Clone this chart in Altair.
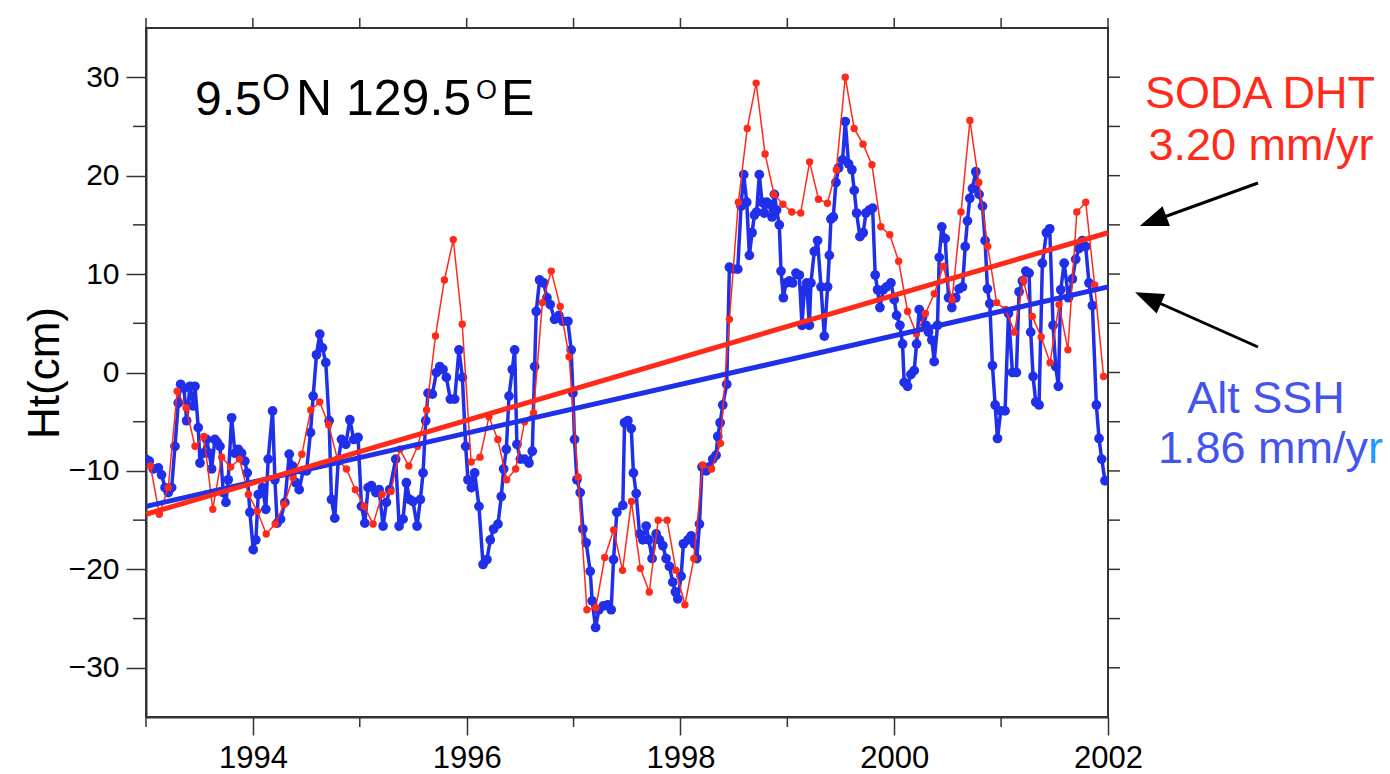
import altair as alt
import pandas as pd

# ---------------- data ----------------
# SODA DHT, monthly values Jan 1993 - Dec 2001 (cm)
red_ht = [-9.5, -14.4, -11.7, -1.9, -3.6, -7.5, -6.5, -13.9, -8.6, -9.6, -8.8, -12.4,
          -14.1, -16.4, -15.4, -13.4, -10.7, -8.3, -3.8, -3.0, -5.3, -8.8, -9.8, -11.9,
          -13.6, -15.4, -12.4, -12.1, -7.8, -9.5, -7.5, -3.8, 3.7, 9.4, 13.5, 4.9,
          -9.1, -8.6, -4.5, -6.8, -10.9, -9.8, -5.0, -4.1, 7.1, 10.3, 6.7, 1.6,
          -10.6, -24.1, -23.9, -18.8, -16.0, -20.1, -13.1, -19.9, -22.3, -15.0, -15.0, -20.1,
          -23.6, -18.9, -9.4, -9.8, -7.2, 5.4, 17.3, 24.8, 29.4, 22.2, 18.1, 17.1,
          16.3, 16.2, 21.4, 17.6, 17.2, 20.6, 30.0, 24.8, 23.2, 21.1, 14.8, 14.0,
          11.3, 6.2, 3.9, 6.0, 8.0, 10.8, 7.4, 16.3, 25.6, 19.3, 12.8, 7.1,
          6.4, 4.1, 9.4, 5.7, 3.6, 1.0, 6.9, 2.3, 16.3, 17.3, 8.9, -0.4]
red_t = [1993 + (i + 0.5) / 12 for i in range(len(red_ht))]

# Altimeter SSH (decimal years, cm)
blue_t = [1993.000, 1993.031, 1993.069, 1993.115, 1993.146, 1993.178, 1993.209, 1993.240, 1993.271, 1993.302,
          1993.324, 1993.355, 1993.380, 1993.411, 1993.442, 1993.458, 1993.489, 1993.505, 1993.536, 1993.567,
          1993.592, 1993.614, 1993.645, 1993.667, 1993.692, 1993.723, 1993.748, 1993.769, 1993.801, 1993.832,
          1993.863, 1993.894, 1993.925, 1993.947, 1993.972, 1994.003, 1994.028, 1994.050, 1994.090, 1994.121,
          1994.143, 1994.184, 1994.206, 1994.227, 1994.259, 1994.299, 1994.340, 1994.371, 1994.402, 1994.433,
          1994.470, 1994.502, 1994.539, 1994.564, 1994.595, 1994.626, 1994.651, 1994.682, 1994.713, 1994.735,
          1994.766, 1994.798, 1994.829, 1994.869, 1994.907, 1994.944, 1994.984, 1995.016, 1995.047, 1995.078,
          1995.109, 1995.150, 1995.181, 1995.218, 1995.249, 1995.280, 1995.336, 1995.368, 1995.405, 1995.436,
          1995.467, 1995.498, 1995.536, 1995.567, 1995.592, 1995.617, 1995.639, 1995.679, 1995.717, 1995.748,
          1995.779, 1995.810, 1995.847, 1995.888, 1995.928, 1995.960, 1995.991, 1996.012, 1996.044, 1996.075,
          1996.115, 1996.153, 1996.190, 1996.221, 1996.252, 1996.293, 1996.324, 1996.346, 1996.371, 1996.396,
          1996.427, 1996.449, 1996.470, 1996.502, 1996.542, 1996.583, 1996.614, 1996.636, 1996.651, 1996.682,
          1996.720, 1996.751, 1996.782, 1996.822, 1996.863, 1996.900, 1996.947, 1996.978, 1996.994, 1997.009,
          1997.031, 1997.062, 1997.087, 1997.118, 1997.156, 1997.174, 1997.206, 1997.237, 1997.280, 1997.321,
          1997.352, 1997.374, 1997.405,
          1997.461, 1997.477, 1997.508, 1997.540, 1997.560, 1997.586, 1997.617, 1997.648, 1997.679, 1997.704,
          1997.735, 1997.773, 1997.804, 1997.835, 1997.866, 1997.897, 1997.928, 1997.953, 1997.975, 1998.006,
          1998.028, 1998.069, 1998.100, 1998.131, 1998.153, 1998.178, 1998.202, 1998.240, 1998.271, 1998.302,
          1998.333, 1998.349, 1998.371, 1998.396, 1998.433, 1998.458, 1998.495, 1998.536, 1998.567, 1998.592,
          1998.620, 1998.645, 1998.670, 1998.692, 1998.713, 1998.738, 1998.763, 1998.785, 1998.807, 1998.832,
          1998.857, 1998.879, 1998.900, 1998.925, 1998.941, 1998.963, 1998.988, 1999.019, 1999.050, 1999.081,
          1999.112, 1999.137, 1999.159, 1999.181, 1999.206, 1999.221, 1999.252, 1999.283, 1999.315, 1999.346,
          1999.377, 1999.393, 1999.408, 1999.430, 1999.455, 1999.480, 1999.517, 1999.542, 1999.573, 1999.604,
          1999.626, 1999.648, 1999.679, 1999.710, 1999.735, 1999.766, 1999.798, 1999.822, 1999.844, 1999.866,
          1999.897, 1999.928, 1999.969, 2000.000, 2000.022, 2000.053, 2000.078, 2000.093, 2000.125, 2000.156,
          2000.187, 2000.209, 2000.234, 2000.265, 2000.296, 2000.321, 2000.352, 2000.374, 2000.405, 2000.421,
          2000.445, 2000.477, 2000.508, 2000.539, 2000.576, 2000.607, 2000.639, 2000.664, 2000.685, 2000.707,
          2000.732, 2000.763, 2000.794, 2000.826, 2000.850, 2000.872, 2000.894, 2000.919, 2000.944, 2000.966,
          2000.997, 2001.037, 2001.069, 2001.106, 2001.143, 2001.168, 2001.199, 2001.231, 2001.262, 2001.277,
          2001.299, 2001.324, 2001.355, 2001.386, 2001.424, 2001.455, 2001.486, 2001.511, 2001.536, 2001.558,
          2001.590, 2001.630, 2001.667, 2001.698, 2001.729, 2001.760, 2001.791, 2001.822, 2001.854, 2001.891,
          2001.916, 2001.941, 2001.972]
blue_ht = [-8.8, -9.0, -9.8, -9.7, -10.4, -11.7, -12.2, -11.7, -7.5, -3.1,
           -1.2, -1.6, -4.9, -1.4, -3.4, -1.4, -5.6, -9.2, -8.2, -6.8,
           -8.2, -9.8, -6.8, -7.1, -7.5, -12.2, -13.2, -10.9, -4.6, -8.2,
           -7.8, -8.2, -9.0, -10.2, -14.2, -18.0, -17.0, -12.4, -11.7, -13.9,
           -8.8, -3.9, -10.9, -15.3, -14.9, -13.2, -8.3, -9.5, -11.2, -11.9,
           -10.0, -10.0, -6.1, -2.4, 1.8, 3.9, 2.5, 1.0, -4.9, -12.9,
           -14.8, -9.0, -6.8, -7.3, -4.8, -6.8, -6.6, -13.6, -15.3, -11.7,
           -11.5, -12.2, -11.9, -15.6, -13.2, -11.9, -8.8, -15.6, -14.9, -11.2,
           -12.9, -13.1, -15.6, -12.9, -10.2, -4.9, -2.1, -2.2, 0.0, 0.6,
           0.3, -0.5, -2.7, -2.7, 2.3, -0.5, -7.5, -10.9, -11.7, -10.2,
           -13.6, -19.5, -19.0, -17.0, -15.9, -15.4, -12.6, -9.8, -7.8, -2.4,
           0.3, 2.3, -7.3, -8.8, -8.8, -9.2, -8.0, 0.6, 6.2, 9.4,
           9.1, 7.6, 6.9, 5.4, 5.8, 5.2, 5.2, 2.3, -2.1, -6.8,
           -10.9, -12.2, -15.9, -17.3, -20.2, -23.2, -25.9, -24.1, -23.7, -23.6,
           -24.1, -19.0, -14.2,
           -13.5, -5.1, -4.9, -5.7, -10.2, -12.3, -16.4, -17.0, -15.6, -17.0,
           -18.9, -16.4, -17.0, -17.6, -18.9, -19.7, -21.3, -22.3, -23.0, -20.7,
           -17.4, -17.0, -16.6, -17.4, -18.9, -15.4, -9.6, -10.0, -9.6, -8.8,
           -8.4, -6.5, -5.1, -3.3, -1.2, 10.7, 10.5, 10.5, 16.9, 20.1,
           17.3, 11.9, 14.2, 16.0, 16.3, 20.1, 17.3, 16.2, 17.3, 17.1,
           15.8, 18.1, 16.5, 15.0, 10.3, 7.6, 9.1, 9.3, 9.1, 10.1,
           9.9, 4.8, 8.4, 9.1, 4.8, 9.1, 12.3, 13.4, 8.7, 3.7,
           8.7, 11.9, 15.6, 15.8, 19.3, 20.8, 21.6, 25.5, 21.2, 20.6,
           18.5, 16.2, 13.8, 14.2, 16.2, 16.5, 16.7, 9.9, 8.4, 6.6,
           8.4, 8.7, 9.1, 7.4, 5.8, 4.8, 2.9, -1.0, -1.4, -0.2,
           0.2, 2.9, 6.4, 5.6, 4.8, 4.1, 3.3, 1.1, 4.8, 11.7,
           14.8, 13.6, 7.6, 6.6, 7.6, 8.5, 8.7, 12.8, 15.4, 17.7,
           18.7, 20.4, 18.1, 16.9, 13.4, 8.5, 7.0, 0.7, -3.3, -6.7,
           -3.9, -3.9, 6.0, 0.0, 0.0, 8.2, 9.3, 10.3, 10.1, 4.1,
           -0.4, -3.0, -3.3, 11.1, 14.2, 14.6, 4.8, 0.6, -1.4, 8.4,
           11.1, 7.6, 9.5, 11.5, 12.6, 13.4, 12.8, 9.1, 6.8, -3.3,
           -6.7, -8.8, -11.0]

# linear trends (end values, cm)
trend_t = [1993.0, 2002.0]
red_trend = [-14.4, 14.2]
blue_trend = [-13.6, 8.7]

x_ticks = [1994, 1996, 1998, 2000, 2002]
x_minor = [1993, 1995, 1997, 1999, 2001]
x_top = [1993, 1994, 1995, 1996, 1997, 1998, 1999, 2000, 2001, 2002]
y_ticks = [-30, -20, -10, 0, 10, 20, 30]
y_minor = [-25, -15, -5, 5, 15, 25]
y_right = [-30, -25, -20, -15, -10, -5, 0, 5, 10, 15, 20, 25, 30]

RED = "#FF2A1A"
BLUE = "#1F2FEA"
FONT = "Liberation Sans"
W, H = 962, 689

red_df = pd.DataFrame({"t": red_t, "h": red_ht})
blue_df = pd.DataFrame({"t": blue_t[:len(blue_ht)], "h": blue_ht[:len(blue_t)]})
rt_df = pd.DataFrame({"t": trend_t, "h": red_trend})
bt_df = pd.DataFrame({"t": trend_t, "h": blue_trend})

xs = alt.Scale(domain=[1993, 2002], nice=False, zero=False)
ys = alt.Scale(domain=[-35, 35], nice=False, zero=False)

X = alt.X("t:Q", scale=xs, axis=alt.Axis(values=x_ticks, format="d", tickSize=18, tickWidth=1.5,
                                         labelFontSize=31, labelPadding=8, title=None, grid=False,
                                         labelFlush=False, labelOverlap=False, domainWidth=2))
Y = alt.Y("h:Q", scale=ys, axis=alt.Axis(values=y_ticks, tickSize=20, tickWidth=1.5, labelFontSize=30,
                                         labelPadding=7, title=None, grid=False, domainWidth=2))

blue_line = alt.Chart(blue_df).mark_line(color=BLUE, strokeWidth=3.5, clip=True).encode(x=X, y=Y)
blue_pts = alt.Chart(blue_df).mark_circle(color=BLUE, size=95, opacity=1, clip=True).encode(x="t:Q", y="h:Q")
red_line = alt.Chart(red_df).mark_line(color=RED, strokeWidth=1.5, clip=True).encode(x="t:Q", y="h:Q")
red_pts = alt.Chart(red_df).mark_circle(color=RED, size=55, opacity=1, clip=True).encode(x="t:Q", y="h:Q")
blue_tr = alt.Chart(bt_df).mark_line(color=BLUE, strokeWidth=5).encode(x="t:Q", y="h:Q")
red_tr = alt.Chart(rt_df).mark_line(color=RED, strokeWidth=5).encode(x="t:Q", y="h:Q")

# extra ticks
tick_col = "#333333"
xminor = alt.Chart(pd.DataFrame({"t": x_minor})).mark_rule(color=tick_col, strokeWidth=1.5).encode(
    x="t:Q", y=alt.value(H), y2=alt.value(H + 10))
xtop = alt.Chart(pd.DataFrame({"t": x_top})).mark_rule(color=tick_col, strokeWidth=1.5).encode(
    x="t:Q", y=alt.value(0), y2=alt.value(-10))
yminor = alt.Chart(pd.DataFrame({"h": y_minor})).mark_rule(color=tick_col, strokeWidth=1.5).encode(
    y="h:Q", x=alt.value(-13), x2=alt.value(0))
yright = alt.Chart(pd.DataFrame({"h": y_right})).mark_rule(color=tick_col, strokeWidth=1.5).encode(
    y="h:Q", x=alt.value(W), x2=alt.value(W + 12))

one = pd.DataFrame({"a": [0]})
OX, OY = 146, 28  # plot origin in page pixels


def txt(s, px, py, size, color="black", align="left", baseline="alphabetic", angle=None):
    kw = dict(font=FONT, fontSize=size, color=color, align=align, baseline=baseline)
    if angle is not None:
        kw["angle"] = angle
    return alt.Chart(one).mark_text(**kw).encode(
        x=alt.value(px - OX), y=alt.value(py - OY), text=alt.value(s))


texts = [
    txt("9.5", 195, 115, 48),
    txt("O", 262, 100, 36),
    txt("N 129.5", 296, 115, 50),
    txt("O", 476, 99, 27),
    txt("E", 501, 115, 50),
    txt("Ht(cm)", 46, 373, 44, align="center", baseline="middle", angle=270),
    txt("SODA DHT", 1260, 108, 45, RED, align="center"),
    txt("3.20 mm/yr", 1261, 160, 45, RED, align="center"),
    txt("Alt SSH", 1266, 413, 45, "#4455EE", align="center"),
    txt("1.86 mm/y", 1368, 463, 45, "#4455EE", align="right"),
    txt("r", 1368, 463, 45, "#1E9BFF", align="left"),
]

# arrows
arrow_shape = "M 1 0 L -1 -0.75 L -1 0.75 Z"


def arrow(tail, center, angle):
    shaft = alt.Chart(one).mark_rule(color="black", strokeWidth=3).encode(
        x=alt.value(tail[0] - OX), y=alt.value(tail[1] - OY),
        x2=alt.value(center[0] - OX), y2=alt.value(center[1] - OY))
    head = alt.Chart(one).mark_point(shape=arrow_shape, filled=True, color="black", opacity=1,
                                     size=800, angle=angle, strokeWidth=0).encode(
        x=alt.value(center[0] - OX), y=alt.value(center[1] - OY))
    return [shaft, head]


arrows = arrow((1258, 183), (1153, 221), 159.6) + arrow((1258, 347), (1148, 298), 203.8)

chart = alt.layer(
    blue_line, blue_pts, red_line, red_pts, blue_tr, red_tr,
    xminor, xtop, yminor, yright, *texts, *arrows
).properties(
    width=W, height=H,
    padding={"left": OX, "top": OY, "right": 1390 - OX - W, "bottom": 774 - OY - H},
    autosize=alt.AutoSizeParams(type="none"),
    background="white",
).configure_view(
    stroke="#333333", strokeWidth=2
).configure_axis(
    domainColor="#333333", tickColor="#333333", labelColor="black", labelFont=FONT
).configure_axisLeft(
    labelFontSize=30
).configure_axisBottom(
    labelFontSize=31
)

chart.save("out.html", embed_options={"renderer": "svg", "actions": False})
